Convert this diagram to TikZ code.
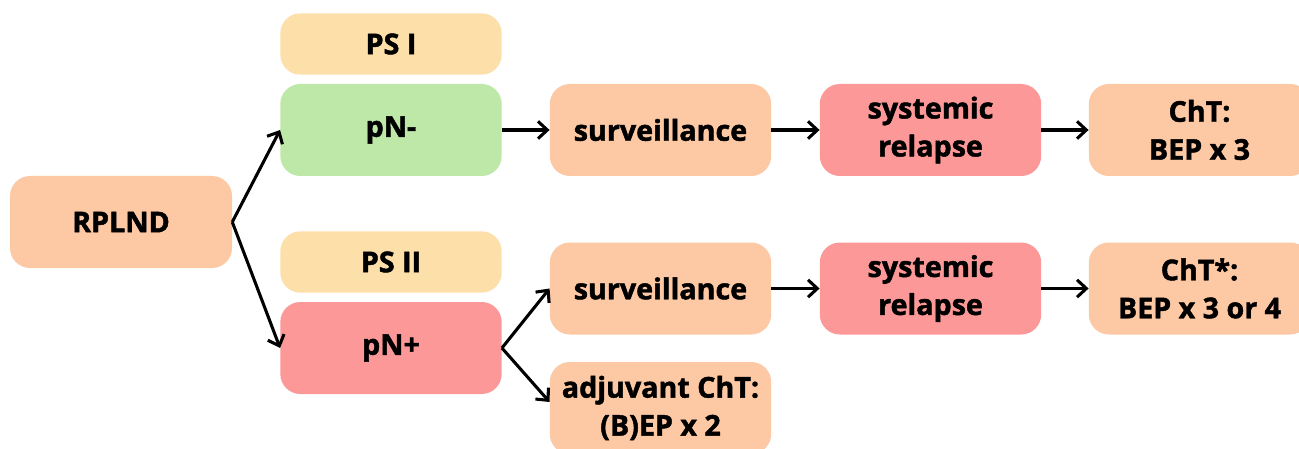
\documentclass[tikz,border=0pt]{standalone}
\usepackage{fontspec}
\setmainfont{Open Sans}[BoldFeatures={FakeBold=1.6}]
\usetikzlibrary{arrows.meta}
\definecolor{peach}{HTML}{FDC8A4}
\definecolor{psy}{HTML}{FDDFAA}
\definecolor{grn}{HTML}{BEE8A8}
\definecolor{rd}{HTML}{FD9898}
\begin{document}
\begin{tikzpicture}[x=0.75pt,y=-0.75pt,
  box/.style={rounded corners=15pt, minimum width=166pt, minimum height=69pt, inner sep=0pt,
    align=center, font=\fontsize{21.5}{28.5}\selectfont\bfseries},
  psbox/.style={box, minimum height=46pt},
  arr/.style={-{Straight Barb[length=7pt,width=13pt,line width=2.3pt]}, line width=2.3pt, black}]
\useasboundingbox (0,0) rectangle (1299,449);
\fill[white] (0,0) rectangle (1299,449);
\begin{scope}
\clip (0,0) rectangle (1299,449);
\node[box, fill=peach, minimum width=166.5pt] (rplnd) at (121,222) {RPLND};
\node[psbox, fill=psy] (ps1) at (391,44) {PS I};
\node[box, fill=grn] (pnm) at (391,130) {pN-};
\node[psbox, fill=psy] (ps2) at (391,262) {PS II};
\node[box, fill=rd] (pnp) at (391,348) {pN+};
\node[box, fill=peach] (surv1) at (660.5,130) {surveillance};
\node[box, fill=rd] (rel1) at (930.5,130) {systemic\\relapse};
\node[box, fill=peach] (cht1) at (1199.5,130) {ChT:\\BEP x 3};
\node[box, fill=peach] (surv2) at (660.5,288.5) {surveillance};
\node[box, fill=rd] (rel2) at (930.5,288.5) {systemic\\relapse};
\node[box, fill=peach] (cht2) at (1199.5,288.5) {ChT*:\\BEP x 3 or 4};
\node[box, fill=peach] (adj) at (660.5,408) {adjuvant ChT:\\(B)EP x 2};
\end{scope}
\draw[arr] (rplnd.east) -- (pnm.west);
\draw[arr] (rplnd.east) -- (pnp.west);
\draw[arr] (pnm.east) -- (surv1.west);
\draw[arr] (surv1.east) -- (rel1.west);
\draw[arr] (rel1.east) -- (cht1.west);
\draw[arr] (pnp.east) -- (surv2.west);
\draw[arr] (surv2.east) -- (rel2.west);
\draw[arr] (rel2.east) -- (cht2.west);
\draw[arr] (pnp.east) -- ([yshift=4.5pt]adj.west);
\end{tikzpicture}
\end{document}
